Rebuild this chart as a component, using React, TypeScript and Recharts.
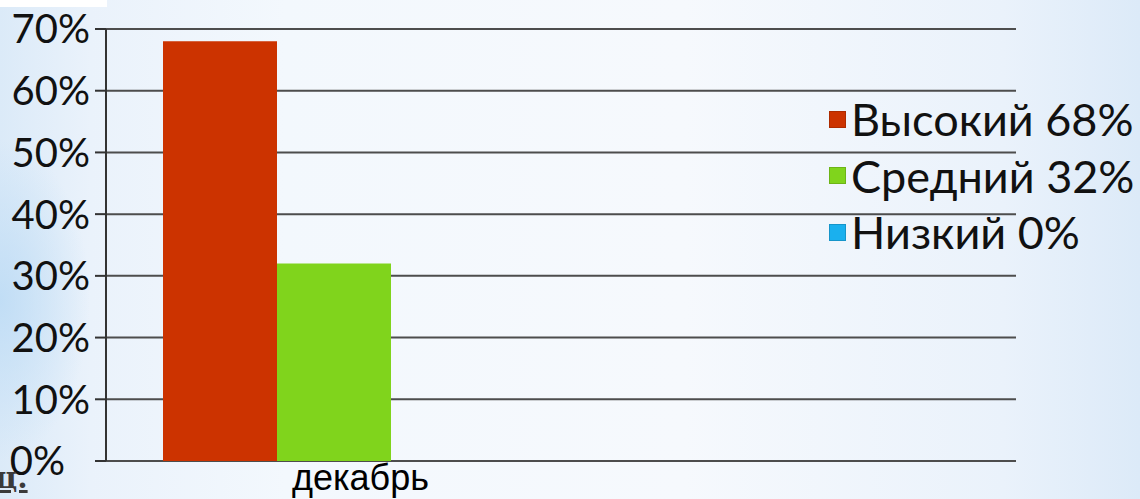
import React from "react";
import { BarChart, Bar, XAxis, YAxis, CartesianGrid, Legend } from "recharts";

const categories = ["декабрь"];
const seriesNames = ["Высокий 68%", "Средний 32%", "Низкий 0%"];
const seriesValues = [[68], [32], [0]];
const seriesColors = ["#cc3300", "#80d41c", "#1ab0ee"];
const yTicks = [0, 10, 20, 30, 40, 50, 60, 70];

const data = categories.map((c, i) => {
  const row: Record<string, string | number> = { name: c };
  seriesNames.forEach((s, k) => {
    row["s" + k] = seriesValues[k][i];
  });
  return row;
});

const YTick = (props: any) => {
  const { x, y, payload } = props;
  const shift = payload.value === 0 ? -25 : 0;
  return (
    <text
      x={x + shift}
      y={y}
      dy="0.36em"
      textAnchor="end"
      fontFamily="Lato"
      fontSize={40}
      fill="#111"
    >
      {payload.value + "%"}
    </text>
  );
};

const XTick = (props: any) => {
  const { x, y, payload } = props;
  return (
    <text
      x={x + 27}
      y={y}
      dy={21}
      textAnchor="middle"
      fontFamily="'Liberation Sans', Arial, sans-serif"
      fontSize={36}
      fill="#000"
    >
      {payload.value}
    </text>
  );
};

const LegendContent = () => (
  <div style={{ display: "flex", flexDirection: "column" }}>
    {seriesNames.map((n, i) => (
      <div
        key={n}
        style={{ height: 56.5, display: "flex", alignItems: "center" }}
      >
        <span
          style={{
            width: 17,
            height: 17,
            background: seriesColors[i],
            display: "inline-block",
            marginRight: 5,
            boxShadow: "inset 0 0 0 1px rgba(0,0,0,0.15)",
          }}
        />
        <span
          style={{
            fontFamily: "Lato",
            fontSize: 45,
            color: "#111",
            lineHeight: "56px",
            whiteSpace: "nowrap",
          }}
        >
          {n}
        </span>
      </div>
    ))}
  </div>
);

export default function App() {
  return (
    <div
      style={{
        position: "absolute",
        left: 0,
        top: 0,
        width: 1140,
        height: 499,
        overflow: "hidden",
        background:
          "radial-gradient(ellipse 90px 160px at 0px 300px, rgba(190,220,245,0.9), rgba(190,220,245,0) 100%), linear-gradient(to right, #dbeaf8 0%, #eaf2fb 8%, #f3f8fd 25%, #f6f9fd 60%, #eaf2fb 88%, #dceaf8 100%)",
      }}
    >
      <div
        style={{
          position: "absolute",
          left: 0,
          top: 0,
          width: 107,
          height: 7,
          background: "#ffffff",
        }}
      />
      <BarChart
        width={1140}
        height={499}
        data={data}
        margin={{ top: 29, right: 124, left: 0, bottom: 0 }}
        barGap={0}
        barSize={114}
      >
        <CartesianGrid
          vertical={false}
          stroke="#4d4d4d"
          strokeWidth={2}
        />
        <XAxis
          dataKey="name"
          height={38}
          padding={{ left: 0, right: 455 }}
          axisLine={false}
          tickLine={false}
          tick={<XTick />}
          interval={0}
        />
        <YAxis
          width={106}
          domain={[0, 70]}
          ticks={yTicks}
          interval={0}
          tickSize={11}
          tickMargin={5}
          axisLine={{ stroke: "#333", strokeWidth: 2 }}
          tickLine={{ stroke: "#333", strokeWidth: 2 }}
          tick={<YTick />}
        />
        {seriesNames.map((n, i) => (
          <Bar
            key={n}
            dataKey={"s" + i}
            name={n}
            fill={seriesColors[i]}
            isAnimationActive={false}
          />
        ))}
        <Legend
          layout="horizontal"
          verticalAlign="middle"
          align="center"
          wrapperStyle={{ left: 829, top: 91, width: 311 }}
          content={<LegendContent />}
        />
      </BarChart>
      <div
        style={{
          position: "absolute",
          left: -5,
          top: 460,
          fontFamily: "'DejaVu Serif', serif",
          fontWeight: "bold",
          fontSize: 30,
          color: "#3a3a3a",
          textDecoration: "underline",
          lineHeight: "36px",
        }}
      >
        ц.
      </div>
    </div>
  );
}
